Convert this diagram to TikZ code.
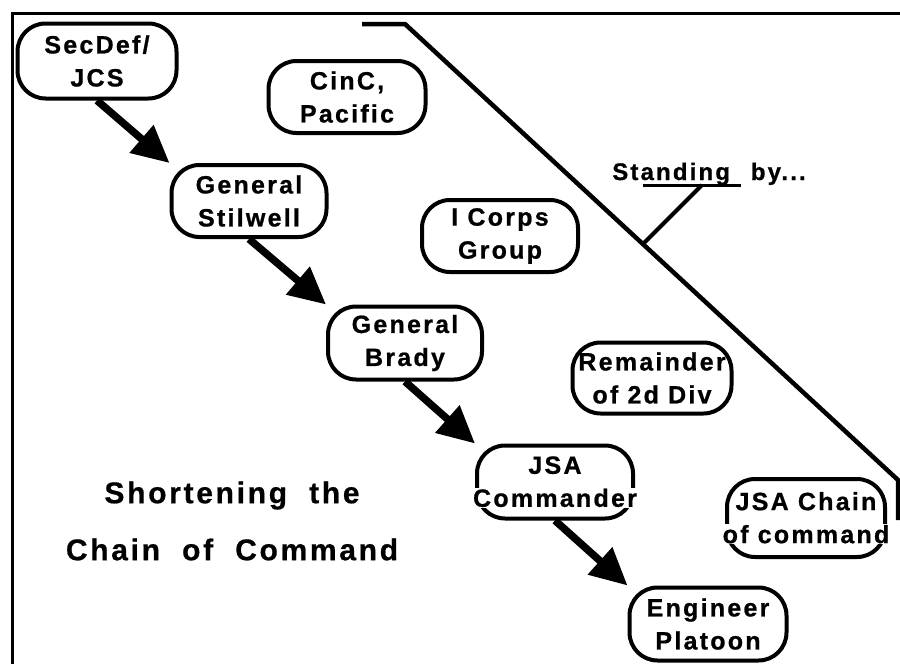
\documentclass[tikz,border=0pt]{standalone}
\usepackage{fontspec}
\setmainfont{Liberation Sans}
\newfontfamily\boxfont{Liberation Sans}[LetterSpace=9,FakeBold=0.8]
\newfontfamily\titlefont{Liberation Sans}[LetterSpace=9,WordSpace=2,FakeBold=0.6]
\usetikzlibrary{arrows.meta}
\setlength{\fboxsep}{0.6pt}
\newcommand{\maskline}[1]{\makebox[0pt]{\colorbox{white}{#1}}}
\newcommand{\openline}[1]{\makebox[0pt]{#1}}

\begin{document}
\begin{tikzpicture}[x=1pt,y=-1pt,
    unit/.style={draw, line width=4pt, rounded corners=28pt, minimum width=156pt, minimum height=72pt,
      inner sep=0pt, align=center, font=\boxfont\bfseries\fontsize{25}{33}\selectfont},
    order/.style={line width=7.5pt, -{Triangle[length=37pt,width=35pt]}}]
    \useasboundingbox (0,0) rectangle (900,664);
    \draw[line width=3pt] (12,664) -- (12,13) -- (900,13);

    \node[unit, minimum width=159pt, minimum height=75pt] (secdef) at (97,61) {\openline{SecDef/}\\\openline{JCS}};
    \node[unit, minimum width=157pt] (cinc) at (347,97) {\openline{CinC,}\\\openline{Pacific}};
    \node[unit, minimum width=155pt] (stilwell) at (249,201) {\openline{General}\\\openline{Stilwell}};
    \node[unit, minimum width=154pt, minimum height=73pt] (brady) at (405,343) {\openline{General}\\\openline{Brady}};
    \node[unit] (corps) at (500,236) {\openline{I Corps}\\\openline{Group}};
    \node[unit, minimum width=159pt, minimum height=71pt] (remainder) at (652,378) {\openline{Remainder}\\\openline{of 2d Div}};
    \node[unit, minimum height=73pt] (jsa) at (555,482) {\openline{JSA}\\\maskline{Commander}};
    \node[unit, minimum width=158pt, minimum height=78pt] (jsachain) at (806,518) {\openline{JSA Chain}\\\maskline{of command}};
    \node[unit, minimum width=157pt, minimum height=73pt] (platoon) at (708,624) {\openline{Engineer}\\\openline{Platoon}};

    \draw[order] (secdef.south) -- (stilwell.north west);
    \draw[order] (stilwell.south) -- (brady.north west);
    \draw[order] (brady.south) -- (jsa.north west);
    \draw[order] (jsa.south) -- (platoon.north west);

    \draw[line width=4.5pt] (362,24) -- (405,24) -- (898,480) -- (898,520);
    \node[anchor=base, font=\boxfont\bfseries\fontsize{24}{28}\selectfont] (standing) at (709,180) {Standing\hspace{12pt} by...};
    \coordinate (foot) at (643,244);
    \coordinate (bar west) at (643,185);
    \coordinate (bar east) at (741,185);
    \draw[line width=4pt] (foot) -- (702,185);
    \draw[line width=3pt] (bar west) -- (bar east);

    \node[font=\titlefont\bfseries\fontsize{30}{57}\selectfont, align=center] (title) at (232,521) {Shortening the\\Chain of Command};
\end{tikzpicture}
\end{document}
